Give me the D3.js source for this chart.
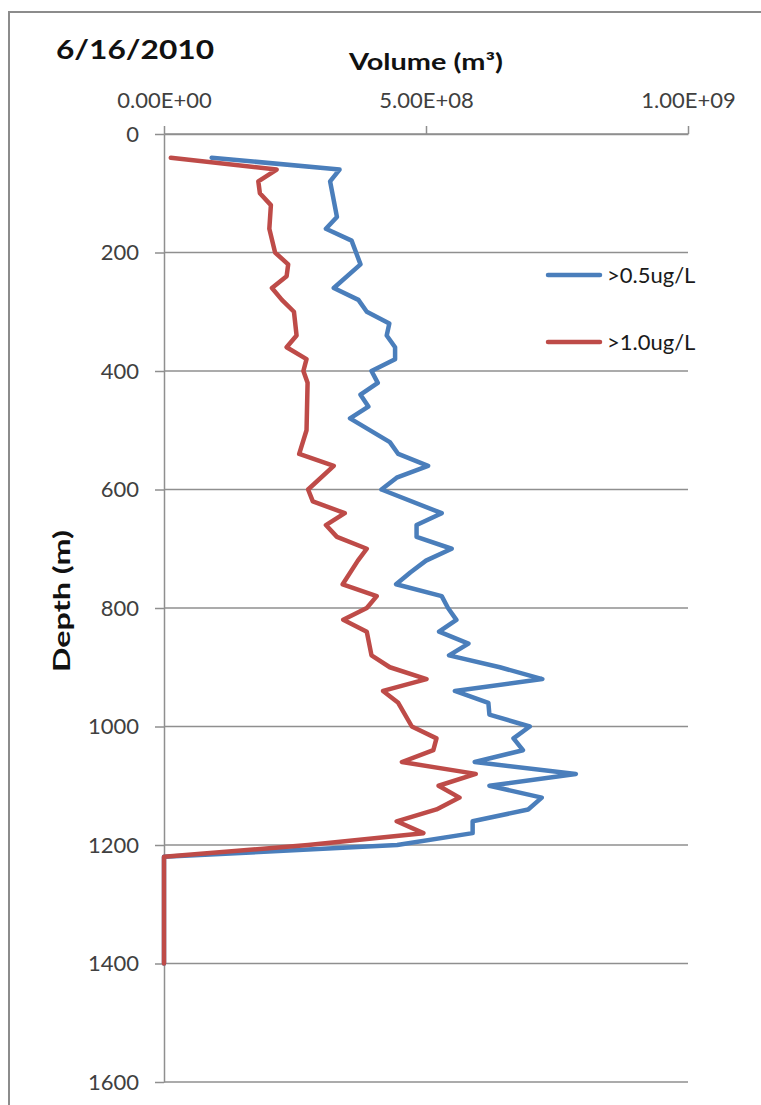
<!DOCTYPE html>
<html lang="en">
<head>
  <meta charset="UTF-8">
  <title>Volume vs Depth - 6/16/2010</title>
  <script src="https://d3js.org/d3.v7.min.js"></script>
  <style>
    body {
      margin: 0;
      background-color: white;
      font-family: Lato, "Open Sans", sans-serif;
    }
    .tick text {
      font-family: Lato, sans-serif;
      font-size: 22px;
      fill: #404040;
    }
  </style>
</head>
<body>
  <div id="chart"></div>

  <script>
    // depth (m) and volume (m^3)
    var blueDepth = [40, 60, 80, 140, 160, 180, 220, 260, 280, 300, 320, 340, 360, 380, 400,
      420, 440, 460, 480, 520, 540, 560, 580, 600, 640, 660, 680, 700, 720, 740, 760, 780,
      800, 820, 840, 860, 880, 900, 920, 940, 960, 980, 1000, 1020, 1040, 1060, 1080, 1100,
      1120, 1140, 1160, 1180, 1200, 1220, 1400];
    var blueVol = [0.91e8, 3.35e8, 3.17e8, 3.30e8, 3.09e8, 3.58e8, 3.75e8, 3.24e8, 3.71e8, 3.87e8,
      4.30e8, 4.25e8, 4.41e8, 4.41e8, 3.96e8, 4.08e8, 3.75e8, 3.90e8, 3.55e8, 4.31e8, 4.47e8,
      5.04e8, 4.44e8, 4.15e8, 5.30e8, 4.82e8, 4.82e8, 5.49e8, 5.00e8, 4.70e8, 4.43e8, 5.30e8,
      5.42e8, 5.58e8, 5.25e8, 5.81e8, 5.44e8, 6.41e8, 7.22e8, 5.55e8, 6.19e8, 6.21e8, 6.98e8,
      6.67e8, 6.85e8, 5.93e8, 7.86e8, 6.21e8, 7.21e8, 6.95e8, 5.89e8, 5.89e8, 4.45e8, 0, 0];

    var redDepth = [40, 60, 80, 100, 120, 160, 200, 220, 240, 260, 280, 300, 340, 360, 380, 400,
      420, 500, 540, 560, 600, 620, 640, 660, 680, 700, 720, 760, 780, 800, 820, 840, 880, 900,
      920, 940, 960, 1000, 1020, 1040, 1060, 1080, 1100, 1120, 1140, 1160, 1180, 1200, 1220, 1400];
    var redVol = [0.13e8, 2.15e8, 1.80e8, 1.83e8, 2.04e8, 2.01e8, 2.12e8, 2.37e8, 2.34e8, 2.06e8,
      2.25e8, 2.48e8, 2.53e8, 2.34e8, 2.72e8, 2.66e8, 2.74e8, 2.72e8, 2.58e8, 3.24e8, 2.75e8,
      2.84e8, 3.45e8, 3.09e8, 3.30e8, 3.87e8, 3.70e8, 3.41e8, 4.06e8, 3.87e8, 3.42e8, 3.87e8,
      3.96e8, 4.31e8, 5.01e8, 4.18e8, 4.47e8, 4.73e8, 5.20e8, 5.14e8, 4.54e8, 5.95e8, 5.24e8,
      5.64e8, 5.20e8, 4.44e8, 4.95e8, 2.75e8, 0, 0];

    var seriesNames = [">0.5ug/L", ">1.0ug/L"];
    var seriesColors = ["#4a7ebb", "#be4b48"];

    var xTicks = [0, 5e8, 1e9];
    var xTickLabels = ["0.00E+00", "5.00E+08", "1.00E+09"];
    var yTicks = [0, 200, 400, 600, 800, 1000, 1200, 1400, 1600];

    var width = 761;
    var height = 1105;

    var svg = d3.select("#chart")
      .append("svg")
      .attr("width", width)
      .attr("height", height);

    // outer chart border (top and left visible)
    svg.append("path")
      .attr("d", "M9," + height + " L9,12 L" + width + ",12")
      .attr("fill", "none")
      .attr("stroke", "#8c8c8c")
      .attr("stroke-width", 2);

    const xScale = d3.scaleLinear().domain([0, 1e9]).range([164, 688]);
    const yScale = d3.scaleLinear().domain([0, 1600]).range([134, 1082]);

    // gridlines
    svg.append("g")
      .selectAll("line")
      .data(yTicks)
      .enter()
      .append("line")
      .attr("x1", xScale(0))
      .attr("x2", xScale(1e9))
      .attr("y1", d => yScale(d))
      .attr("y2", d => yScale(d))
      .attr("stroke", "#8f8f8f")
      .attr("stroke-width", 1.5);

    // top x axis
    var xAxis = d3.axisTop(xScale)
      .tickValues(xTicks)
      .tickFormat((d, i) => xTickLabels[i])
      .tickSizeInner(8)
      .tickSizeOuter(0)
      .tickPadding(18);
    var gx = svg.append("g")
      .attr("transform", "translate(0," + yScale(0) + ")")
      .call(xAxis);
    gx.select(".domain").attr("stroke", "#8f8f8f").attr("stroke-width", 1.5);
    gx.selectAll(".tick line").attr("stroke", "#8f8f8f").attr("stroke-width", 1.5);

    // left y axis
    var yAxis = d3.axisLeft(yScale)
      .tickValues(yTicks)
      .tickFormat(d3.format("d"))
      .tickSizeInner(9)
      .tickSizeOuter(0)
      .tickPadding(16);
    var gy = svg.append("g")
      .attr("transform", "translate(" + xScale(0) + ",0)")
      .call(yAxis);
    gy.select(".domain").attr("stroke", "#8f8f8f").attr("stroke-width", 1.5);
    gy.selectAll(".tick line").attr("stroke", "#8f8f8f").attr("stroke-width", 1.5);

    // series lines
    var line = d3.line()
      .x(d => xScale(d[1]))
      .y(d => yScale(d[0]));

    var blueData = d3.zip(blueDepth, blueVol);
    var redData = d3.zip(redDepth, redVol);

    svg.append("path")
      .datum(blueData)
      .attr("d", line)
      .attr("fill", "none")
      .attr("stroke", seriesColors[0])
      .attr("stroke-width", 4.5)
      .attr("stroke-linejoin", "round")
      .attr("stroke-linecap", "round");

    svg.append("path")
      .datum(redData)
      .attr("d", line)
      .attr("fill", "none")
      .attr("stroke", seriesColors[1])
      .attr("stroke-width", 4.5)
      .attr("stroke-linejoin", "round")
      .attr("stroke-linecap", "round");

    // legend
    var legend = svg.append("g").attr("transform", "translate(548,275)");
    seriesNames.forEach((name, i) => {
      legend.append("line")
        .attr("x1", 0)
        .attr("x2", 52)
        .attr("y1", i * 67)
        .attr("y2", i * 67)
        .attr("stroke", seriesColors[i])
        .attr("stroke-width", 4.5)
        .attr("stroke-linecap", "round");
      legend.append("text")
        .attr("x", 59)
        .attr("y", i * 67 + 8)
        .text(name)
        .style("font-size", "22px")
        .style("fill", "#1a1a1a");
    });

    // titles
    svg.append("text")
      .attr("x", 56)
      .attr("y", 59)
      .attr("textLength", 158)
      .attr("lengthAdjust", "spacingAndGlyphs")
      .text("6/16/2010")
      .style("font-size", "27px")
      .style("font-weight", "bold")
      .style("fill", "#111");

    svg.append("text")
      .attr("x", 349)
      .attr("y", 70)
      .attr("textLength", 154)
      .attr("lengthAdjust", "spacingAndGlyphs")
      .text("Volume (m³)")
      .style("font-size", "22px")
      .style("font-weight", "bold")
      .style("fill", "#111");

    svg.append("text")
      .attr("transform", "translate(70,601) rotate(-90)")
      .attr("text-anchor", "middle")
      .attr("textLength", 142)
      .attr("lengthAdjust", "spacingAndGlyphs")
      .text("Depth (m)")
      .style("font-size", "22px")
      .style("font-weight", "bold")
      .style("fill", "#111");
  </script>
</body>
</html>
